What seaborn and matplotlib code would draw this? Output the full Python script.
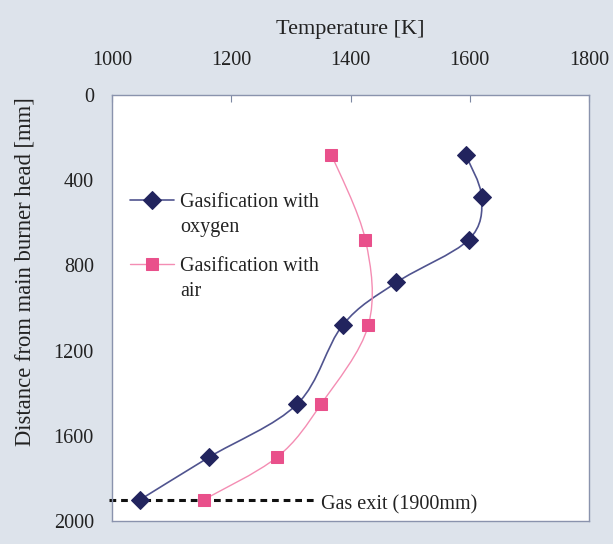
import matplotlib
matplotlib.use("Agg")
import matplotlib.pyplot as plt
import seaborn as sns
import pandas as pd
import numpy as np
from matplotlib.path import Path
from matplotlib.patches import PathPatch

# ---- data ----
oxy_temp = [1593, 1620, 1598, 1477, 1387, 1311, 1163, 1047]
oxy_dist = [280, 480, 680, 880, 1080, 1450, 1700, 1900]
air_temp = [1368, 1425, 1430, 1351, 1277, 1154]
air_dist = [280, 680, 1080, 1450, 1700, 1900]
x_ticks = [1000, 1200, 1400, 1600, 1800]
y_ticks = [0, 400, 800, 1200, 1600, 2000]
series_names = ["Gasification with\noxygen", "Gasification with\nair"]
exit_dist = 1900
exit_label = "Gas exit (1900mm)"

sns.set_theme(style="white")
plt.rcParams['font.family'] = ['Liberation Serif', 'DejaVu Serif']

bg = "#dde3eb"
fig = plt.figure(figsize=(6.13, 5.44), dpi=100, facecolor=bg)
ax = fig.add_axes([112/613, 1-521/544, (589-112)/613, (521-95)/544])
ax.set_facecolor("white")

df_o = pd.DataFrame({"T": oxy_temp, "d": oxy_dist, "s": series_names[0]})
df_a = pd.DataFrame({"T": air_temp, "d": air_dist, "s": series_names[1]})

navy_m = "#22245e"
navy_l = "#50548f"
pink_m = "#e9508b"
pink_l = "#f48db3"

sns.lineplot(data=df_o, x="T", y="d", sort=False, ax=ax, color=navy_l, lw=1.2,
             marker="D", markersize=9.5, markerfacecolor=navy_m,
             markeredgecolor=navy_m, label=series_names[0], zorder=3)
sns.lineplot(data=df_a, x="T", y="d", sort=False, ax=ax, color=pink_l, lw=1.0,
             marker="s", markersize=9, markerfacecolor=pink_m,
             markeredgecolor=pink_m, label=series_names[1], zorder=3)


def smooth_path(xs, ys):
    p = np.column_stack([xs, ys]).astype(float)
    verts = [p[0]]
    codes = [Path.MOVETO]
    n = len(p)
    for i in range(n - 1):
        p0 = p[i - 1] if i > 0 else p[i]
        p1, p2 = p[i], p[i + 1]
        p3 = p[i + 2] if i + 2 < n else p[i + 1]
        c1 = p1 + (p2 - p0) / 6.0
        c2 = p2 - (p3 - p1) / 6.0
        verts += [c1, c2, p2]
        codes += [Path.CURVE4] * 3
    return Path(verts, codes)


leg = ax.legend(loc="upper left", bbox_to_anchor=(0.02, 0.79), frameon=False,
                fontsize=14.5, handlelength=2.2, handletextpad=0.3,
                labelspacing=1.0, borderaxespad=0)
for t in leg.get_texts():
    t.set_color("#222222")
    t.set_linespacing(1.45)
for h in leg.legend_handles:
    h.set_ydata(np.asarray(h.get_ydata()) + 10.5)

# replace straight connectors in the axes with smoothed curves
line_o, line_a = ax.lines[0], ax.lines[1]
line_o.set_linestyle("None")
line_a.set_linestyle("None")
ax.add_patch(PathPatch(smooth_path(oxy_temp, oxy_dist), fill=False,
                       edgecolor=navy_l, lw=1.2, zorder=2.5))
ax.add_patch(PathPatch(smooth_path(air_temp, air_dist), fill=False,
                       edgecolor=pink_l, lw=1.0, zorder=2.5))

# gas exit line
ax.plot([995, 1342], [exit_dist, exit_dist], ls=(0, (2.2, 1.6)), color="#111111",
        lw=2.2, clip_on=False, zorder=2)
ax.text(1350, exit_dist + 25, exit_label, fontsize=14.5, color="#222222",
        va="center", ha="left")

ax.set_xlim(1000, 1800)
ax.set_ylim(2000, 0)
ax.xaxis.set_ticks_position("top")
ax.xaxis.set_label_position("top")
ax.set_xticks(x_ticks)
ax.set_yticks(y_ticks)
ax.tick_params(axis="x", direction="in", length=5, width=0.8, color="#7d88a3",
               labelsize=14.5, pad=18, labelcolor="#222222")
ax.tick_params(axis="y", direction="out", length=5, width=0.8, color="#7d88a3",
               labelsize=14.5, pad=8, labelcolor="#222222")
ax.set_xlabel("Temperature [K]", fontsize=16, color="#222222")
ax.xaxis.set_label_coords(0.5, (521 - 34) / 426)
ax.set_ylabel("Distance from main burner head [mm]", fontsize=16.3,
              color="#222222")
ax.yaxis.set_label_coords(-0.16, (521 - 272) / 426)
for sp in ax.spines.values():
    sp.set_color("#8a93ad")
    sp.set_linewidth(1.0)

fig.savefig("out.png", dpi=100, facecolor=bg)
